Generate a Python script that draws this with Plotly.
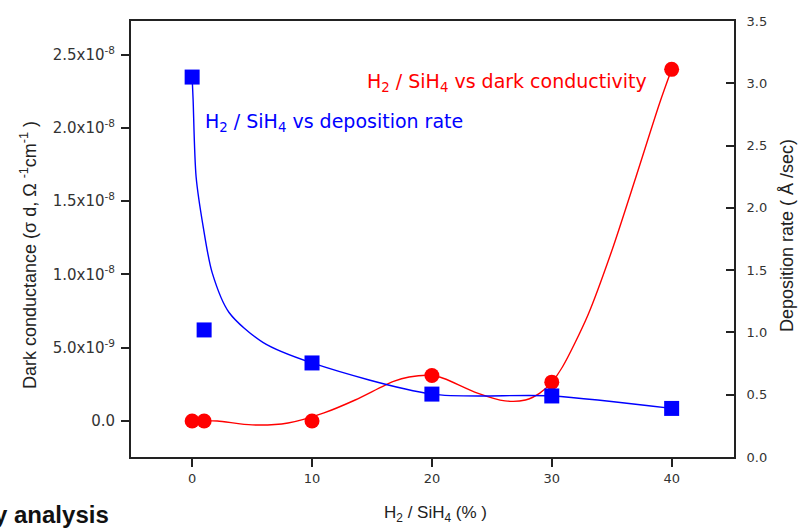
import plotly.graph_objects as go

# ---- data ----
ratio_cond = [0, 1, 10, 20, 30, 40]                     # H2/SiH4 (%)
dark_cond = [0.0, 0.0, 0.0, 0.31e-8, 0.265e-8, 2.40e-8]  # S/cm

ratio_dep = [0, 1, 10, 20, 30, 40]
dep_rate = [3.05, 1.02, 0.755, 0.505, 0.49, 0.39]         # A/sec

# smooth guide curves as drawn in the picture
cond_curve_x = [0, 1, 2.1, 5.0, 8.0, 11.0, 13.6, 16.8, 18.1, 20, 21, 23.8, 26.1, 27.8, 29, 30, 30.9, 33, 35, 37, 39, 40]
cond_curve_y = [0, 0, 0, -0.027e-8, -0.014e-8, 0.055e-8, 0.143e-8, 0.27e-8, 0.30e-8, 0.31e-8, 0.29e-8,
                0.19e-8, 0.137e-8, 0.143e-8, 0.19e-8, 0.265e-8, 0.37e-8, 0.72e-8, 1.16e-8, 1.66e-8, 2.17e-8, 2.40e-8]

dep_curve_x = [0, 0.08, 0.33, 0.92, 1.67, 3.08, 5.9, 10, 20, 30, 40]
dep_curve_y = [3.05, 2.87, 2.25, 1.85, 1.48, 1.16, 0.92, 0.755, 0.505, 0.49, 0.39]

x_ticks = [0, 10, 20, 30, 40]
left_tickvals = [0, 0.5e-8, 1.0e-8, 1.5e-8, 2.0e-8, 2.5e-8]
left_ticktext = ["0.0", "5.0x10<sup>-9</sup>", "1.0x10<sup>-8</sup>", "1.5x10<sup>-8</sup>",
                 "2.0x10<sup>-8</sup>", "2.5x10<sup>-8</sup>"]
right_tickvals = [0, 0.5, 1.0, 1.5, 2.0, 2.5, 3.0, 3.5]

RED = "#ff0000"
BLUE = "#0000ff"
AXC = "#222222"

fig = go.Figure()

fig.add_trace(go.Scatter(x=cond_curve_x, y=cond_curve_y, mode="lines",
                         line=dict(color=RED, width=1.4, shape="spline", smoothing=0.8),
                         yaxis="y", showlegend=False, hoverinfo="skip"))
fig.add_trace(go.Scatter(x=dep_curve_x, y=dep_curve_y, mode="lines",
                         line=dict(color=BLUE, width=1.4, shape="spline", smoothing=0.8),
                         yaxis="y2", showlegend=False, hoverinfo="skip"))
fig.add_trace(go.Scatter(x=ratio_cond, y=dark_cond, mode="markers",
                         marker=dict(symbol="circle", size=15, color=RED, line=dict(width=0)),
                         yaxis="y", name="H2 / SiH4 vs dark conductivity", showlegend=False))
fig.add_trace(go.Scatter(x=ratio_dep, y=dep_rate, mode="markers",
                         marker=dict(symbol="square", size=15, color=BLUE, line=dict(width=0)),
                         yaxis="y2", name="H2 / SiH4 vs deposition rate", showlegend=False))

tickfont = dict(family="DejaVu Sans", size=13, color="#333333")

fig.update_layout(
    width=812, height=528,
    margin=dict(l=131, r=78, t=21, b=71),
    paper_bgcolor="white", plot_bgcolor="white",
    showlegend=False,
    xaxis=dict(range=[-5.1, 45.2], tickvals=x_ticks, ticks="outside", ticklen=8, tickwidth=2,
               tickcolor=AXC, showline=True, linecolor=AXC, linewidth=2, mirror=True,
               showgrid=False, zeroline=False, tickfont=tickfont),
    yaxis=dict(range=[-0.246e-8, 2.73e-8], tickvals=left_tickvals, ticktext=left_ticktext,
               ticks="outside", ticklen=8, tickwidth=2, tickcolor=AXC, showline=True,
               linecolor=AXC, linewidth=2, showgrid=False, zeroline=False,
               tickfont=dict(family="DejaVu Sans", size=15, color="#333333"), ticklabelstandoff=3),
    yaxis2=dict(range=[0, 3.5], tickvals=right_tickvals, tickformat=".1f", overlaying="y",
                side="right", ticks="inside", ticklen=8, tickwidth=2, tickcolor=AXC,
                showline=True, linecolor=AXC, linewidth=2, showgrid=False, zeroline=False,
                tickfont=tickfont, ticklabelstandoff=8),
    font=dict(family="Liberation Sans", color="#222222"),
)

fig.add_annotation(text="H<sub>2</sub> / SiH<sub>4</sub> vs deposition rate", xref="paper", yref="paper",
                   x=(203 - 131) / 603, y=(457 - 122) / 436, xanchor="left", yanchor="middle",
                   showarrow=False, font=dict(family="DejaVu Sans", size=19, color=BLUE))
fig.add_annotation(text="H<sub>2</sub> / SiH<sub>4</sub> vs dark conductivity", xref="paper", yref="paper",
                   x=(649 - 131) / 603, y=(457 - 82) / 436, xanchor="right", yanchor="middle",
                   showarrow=False, font=dict(family="DejaVu Sans", size=19, color=RED))

fig.add_annotation(text="Dark conductance (σ d, Ω <sup>-1</sup>cm<sup>-1</sup> )", xref="paper", yref="paper",
                   x=(28 - 131) / 603, y=(457 - 255) / 436, textangle=-90, xanchor="center",
                   yanchor="middle", showarrow=False,
                   font=dict(family="Liberation Sans", size=18, color="#222222"))
fig.add_annotation(text="Deposition rate ( Å /sec)", xref="paper", yref="paper",
                   x=(787 - 131) / 603, y=(457 - 236) / 436, textangle=-90, xanchor="center",
                   yanchor="middle", showarrow=False,
                   font=dict(family="Liberation Sans", size=18, color="#222222"))
fig.add_annotation(text="H<sub>2</sub> / SiH<sub>4</sub> (% )", xref="paper", yref="paper",
                   x=(435 - 131) / 603, y=(457 - 514) / 436, xanchor="center", yanchor="middle",
                   showarrow=False, font=dict(family="Liberation Sans", size=17, color="#222222"))
fig.add_annotation(text="<b>y analysis</b>", xref="paper", yref="paper",
                   x=(111 - 131) / 603, y=(457 - 514) / 436, xanchor="right", yanchor="middle",
                   showarrow=False, font=dict(family="Liberation Sans", size=24, color="#111111"))

fig.write_html("out.html")
